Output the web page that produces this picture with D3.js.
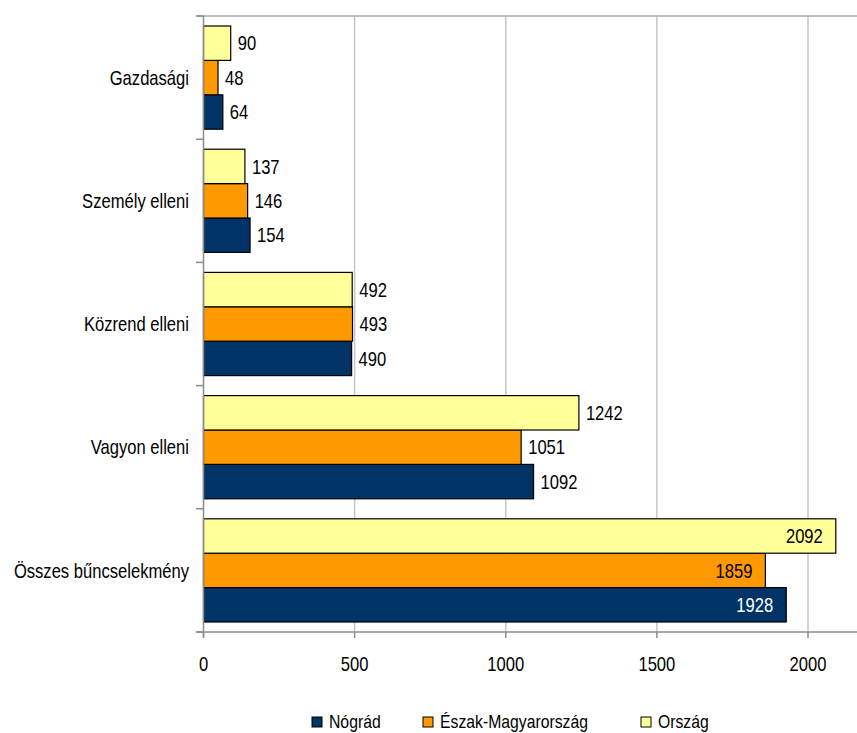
<!DOCTYPE html>
<html>
<head>
<meta charset="utf-8">
<script src="https://cdn.jsdelivr.net/npm/d3@7"></script>
<style>
  body { margin: 0; background: #fff; }
  svg text { font-family: "Liberation Sans", Arial, sans-serif; font-size: 20px; fill: #000; }
</style>
</head>
<body>
<div class="chart"></div>
<script>
// chart data
var categories = ["Gazdasági", "Személy elleni", "Közrend elleni", "Vagyon elleni", "Összes bűncselekmény"];
var seriesNames = ["Nógrád", "Észak-Magyarország", "Ország"];
var nogradValues = [64, 154, 490, 1092, 1928];
var eszakValues = [48, 146, 493, 1051, 1859];
var orszagValues = [90, 137, 492, 1242, 2092];
var xTicks = [0, 500, 1000, 1500, 2000];

var colors = { "Nógrád": "#003366", "Észak-Magyarország": "#ff9900", "Ország": "#ffff99" };

var svgWidth = 857, svgHeight = 733;
var plot = { left: 203.5, top: 16, bottom: 632, right: 857 };
var squeeze = 0.83; // the original text is a narrow face

var svg = d3.select(".chart").append("svg")
  .attr("width", svgWidth)
  .attr("height", svgHeight);

// place text at x,y and squeeze it horizontally
function pos(x, y) {
  return `translate(${x}, ${y}) scale(${squeeze}, 1)`;
}

// build rows for the library
var rows = categories.map(function (c, i) {
  return { cat: c, "Nógrád": nogradValues[i], "Észak-Magyarország": eszakValues[i], "Ország": orszagValues[i] };
});

var x = d3.scaleLinear().domain([0, 2000]).range([plot.left, 808]);
var y = d3.scaleBand().domain(categories).range([plot.top, plot.bottom]);
// top to bottom inside a group: Ország, Észak, Nógrád
var ySub = d3.scaleBand().domain(["Ország", "Észak-Magyarország", "Nógrád"]).range([10, y.bandwidth() - 10]);

// gridlines
svg.append("g").selectAll("line")
  .data(xTicks.slice(1))
  .enter().append("line")
  .attr("x1", d => x(d)).attr("x2", d => x(d))
  .attr("y1", plot.top).attr("y2", plot.bottom)
  .attr("stroke", "#c6c6c6").attr("stroke-width", 1.5);

// top border line
svg.append("line")
  .attr("x1", 196).attr("x2", plot.right)
  .attr("y1", plot.top).attr("y2", plot.top)
  .attr("stroke", "#a8a8a8").attr("stroke-width", 1.5);

// bars
var groups = svg.append("g").selectAll("g")
  .data(rows)
  .enter().append("g")
  .attr("transform", d => `translate(0, ${y(d.cat)})`);

groups.selectAll("rect")
  .data(d => seriesNames.map(s => ({ key: s, value: d[s], cat: d.cat })))
  .enter().append("rect")
  .attr("x", x(0))
  .attr("y", d => ySub(d.key))
  .attr("width", d => x(d.value) - x(0))
  .attr("height", ySub.bandwidth())
  .attr("fill", d => colors[d.key])
  .attr("stroke", "#000")
  .attr("stroke-width", 1.2);

// value labels - inside for the big group
groups.selectAll("text.val")
  .data(d => seriesNames.map(s => ({ key: s, value: d[s], cat: d.cat })))
  .enter().append("text")
  .attr("class", "val")
  .attr("transform", function (d) {
    var tx = d.value > 1800 ? x(d.value) - 13 : x(d.value) + 7;
    return pos(tx, ySub(d.key) + ySub.bandwidth() / 2);
  })
  .attr("dy", "0.36em")
  .attr("text-anchor", d => d.value > 1800 ? "end" : "start")
  .style("fill", d => (d.value > 1800 && d.key == "Nógrád") ? "#fff" : "#000")
  .text(d => d.value);

// left axis
svg.append("line")
  .attr("x1", plot.left).attr("x2", plot.left)
  .attr("y1", plot.top).attr("y2", plot.bottom + 5)
  .attr("stroke", "#8c8c8c").attr("stroke-width", 1.5);
var bounds = categories.map(c => y(c)).concat([plot.bottom]);
svg.append("g").selectAll("line")
  .data(bounds)
  .enter().append("line")
  .attr("x1", 196).attr("x2", plot.left)
  .attr("y1", d => d).attr("y2", d => d)
  .attr("stroke", "#8c8c8c").attr("stroke-width", 1.5);

svg.append("g").selectAll("text")
  .data(categories)
  .enter().append("text")
  .attr("transform", d => pos(189, y(d) + y.bandwidth() / 2))
  .attr("dy", "0.36em")
  .attr("text-anchor", "end")
  .text(d => d);

// bottom axis
svg.append("line")
  .attr("x1", 196).attr("x2", plot.right)
  .attr("y1", plot.bottom).attr("y2", plot.bottom)
  .attr("stroke", "#8c8c8c").attr("stroke-width", 1.5);
svg.append("g").selectAll("line")
  .data(xTicks)
  .enter().append("line")
  .attr("x1", d => x(d)).attr("x2", d => x(d))
  .attr("y1", plot.bottom).attr("y2", plot.bottom + 6)
  .attr("stroke", "#8c8c8c").attr("stroke-width", 1.5);
svg.append("g").selectAll("text")
  .data(xTicks)
  .enter().append("text")
  .attr("transform", d => pos(x(d), 671))
  .attr("text-anchor", "middle")
  .text(d => d);

// legend
var legendX = [312, 423, 641];
var legend = svg.append("g").selectAll("g")
  .data(seriesNames)
  .enter().append("g")
  .attr("transform", (d, i) => `translate(${legendX[i]}, 717)`);
legend.append("rect")
  .attr("width", 10).attr("height", 10)
  .attr("fill", d => colors[d])
  .attr("stroke", "#000").attr("stroke-width", 1);
legend.append("text")
  .attr("transform", pos(17, 11))
  .style("font-size", "19px")
  .text(d => d);
</script>
</body>
</html>
